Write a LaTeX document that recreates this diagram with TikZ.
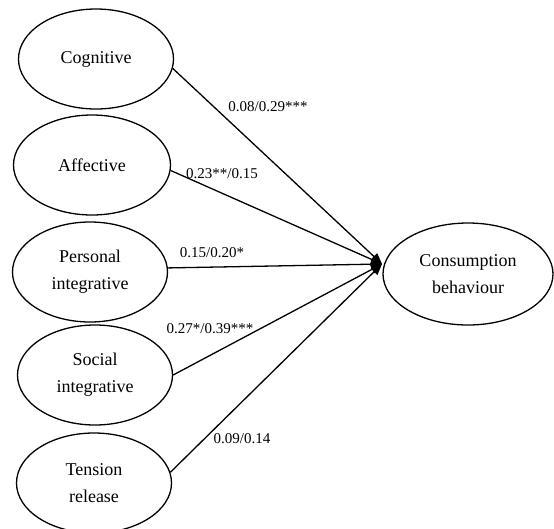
\documentclass[tikz,border=0pt]{standalone}
\usepackage{fontspec}
\setmainfont{Liberation Serif}
\usetikzlibrary{shapes.geometric,arrows.meta}
\tikzset{
  factor/.style={ellipse, draw, line width=1.3pt, minimum width=155pt, minimum height=100pt,
    inner sep=0pt, align=center, font=\fontsize{18}{27}\selectfont},
  path/.style={line width=1.3pt, -{Triangle[length=11pt,width=9pt]}},
  coef/.style={font=\fontsize{15}{18}\selectfont, inner sep=0pt}
}
\begin{document}
\begin{tikzpicture}[x=1pt,y=-1pt]
\useasboundingbox (0,0) rectangle (554,528);
% predictor constructs
\node[factor] (cog) at (96,59) {Cognitive};
\node[factor, minimum width=157pt] (aff) at (92,165) {Affective};
\node[factor] (per) at (90,272) {Personal\\integrative};
\node[factor] (soc) at (95,375) {Social\\integrative};
\node[factor] (ten) at (94,483) {Tension\\release};
% outcome construct
\node[factor, minimum width=170pt, minimum height=102pt] (con) at (468,274) {Consumption\\behaviour};
\coordinate (tip) at (382,264);
% structural paths, leaving each predictor near its right-hand side
\draw[path] (cog.-7) -- (tip);
\draw[path] (aff.-4) -- (tip);
\draw[path] (per.3) -- (tip);
\draw[path] (soc.0) -- (tip);
\draw[path] (ten.8) -- (tip);
% path coefficients
\node[coef] (c1) at (268,107) {0.08/0.29***};
\node[coef] (c2) at (222,174) {0.23**/0.15};
\node[coef] (c3) at (212,253) {0.15/0.20*};
\node[coef] (c4) at (210,329) {0.27*/0.39***};
\node[coef] (c5) at (242,439) {0.09/0.14};
\end{tikzpicture}
\end{document}
